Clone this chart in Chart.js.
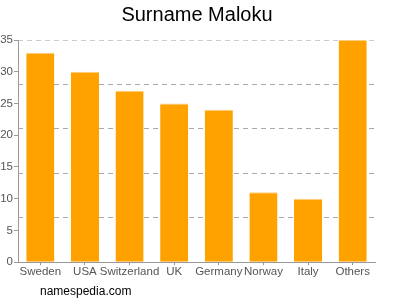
<!DOCTYPE html>
<html>
<head>
<meta charset="utf-8">
<script src="https://cdn.jsdelivr.net/npm/chart.js@4"></script>
<style>
  html, body { margin: 0; padding: 0; background: #fff; }
  #wrap { position: relative; width: 400px; height: 300px; }
  #title {
    position: absolute; left: 0; top: 3px; width: 394px; text-align: center;
    font: 20px "Liberation Sans", Arial, sans-serif; color: #000;
  }
  #footer {
    position: absolute; left: 40px; top: 284px;
    font: 12px "Liberation Sans", Arial, sans-serif; color: #000;
  }
</style>
</head>
<body>
<div id="wrap">
  <canvas id="chart" width="400" height="300"></canvas>
  <div id="title">Surname Maloku</div>
  <div id="footer">namespedia.com</div>
</div>
<script>
// ===== DATA =====
const countries = ["Sweden", "USA", "Switzerland", "UK", "Germany", "Norway", "Italy", "Others"];
const counts = [33, 30, 27, 25, 24, 11, 10, 35];
const yTicks = [0, 5, 10, 15, 20, 25, 30, 35];
const gridSteps = [0, 7, 14, 21, 28, 35];

const gray = "#999";
const font = { family: "'Liberation Sans', Arial, sans-serif", size: 11.5 };

new Chart(document.getElementById("chart"), {
    type: "bar",
    data: {
        labels: countries,
        datasets: [{
            data: counts,
            backgroundColor: "#ffa200",
            borderColor: "#ffd080",
            borderWidth: { top: 1, left: 0, right: 0, bottom: 0 },
            borderSkipped: "bottom",
            barPercentage: 0.63,
            categoryPercentage: 1
        }]
    },
    options: {
        responsive: false,
        animation: false,
        layout: { padding: { left: 0, right: 25, top: 40, bottom: 21 } },
        plugins: {
            legend: { display: false },
            tooltip: { enabled: false },
            title: { display: false }
        },
        scales: {
            x: {
                grid: { display: true, drawOnChartArea: false, offset: false, tickLength: 3, color: gray },
                border: { color: gray },
                ticks: { color: "#555", font: font, padding: 0, maxRotation: 0, autoSkip: false }
            },
            y: {
                min: 0, max: 35,
                afterBuildTicks: axis => { axis.ticks = yTicks.map(v => ({ value: v })); },
                afterFit: axis => { axis.width = 18; },
                grid: { display: true, drawOnChartArea: false, tickLength: 4, color: gray },
                border: { color: gray },
                ticks: { color: "#555", font: font, padding: 1 }
            },
            yg: {
                position: "right",
                min: 0, max: 35,
                afterBuildTicks: axis => { axis.ticks = gridSteps.map(v => ({ value: v })); },
                afterFit: axis => { axis.width = 0; },
                ticks: { display: false },
                border: { display: false, dash: [5, 4] },
                grid: {
                    drawTicks: false,
                    color: ctx => ctx.tick && ctx.tick.value === 35 ? "#ccc" : "#aaa"
                }
            }
        }
    }
});
</script>
</body>
</html>
